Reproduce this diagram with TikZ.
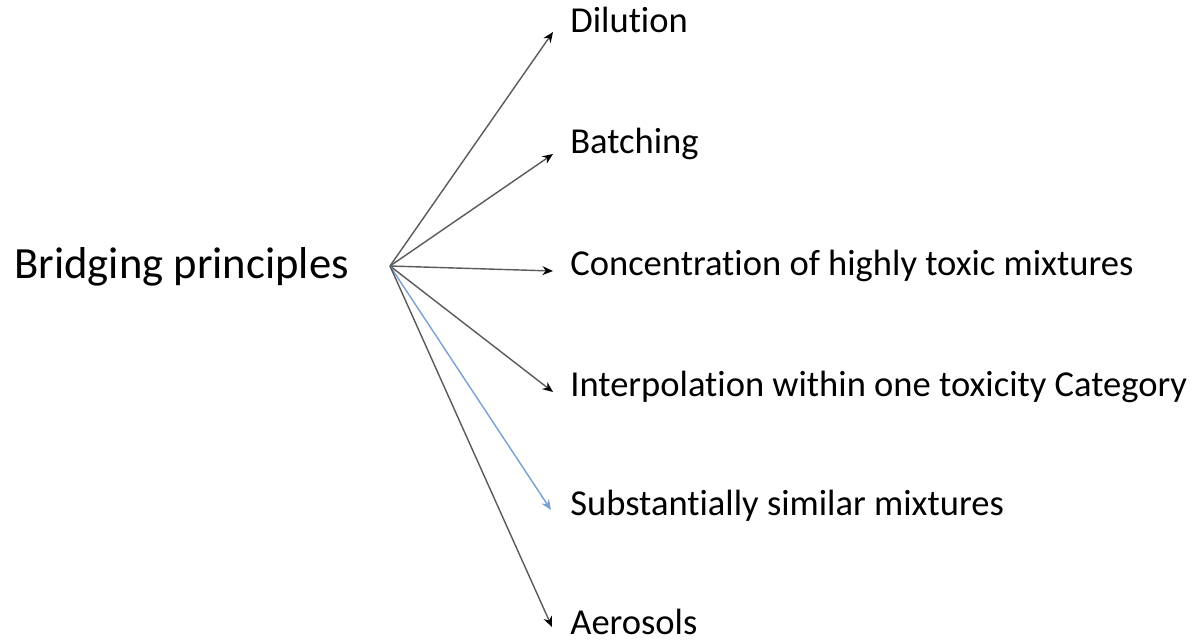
\documentclass[tikz,border=0pt]{standalone}
\usepackage{fontspec}
\setmainfont{Carlito}[Ligatures=NoCommon]
\usetikzlibrary{arrows.meta}
\definecolor{linkgray}{RGB}{90,90,90}
\definecolor{linkblue}{RGB}{120,160,215}
\tikzset{
  branch/.style={text=black, anchor=base west, inner sep=0pt, font=\fontsize{20.8pt}{24pt}\selectfont},
  link/.style={draw=linkgray, line width=0.8pt, -{Stealth[length=6pt,width=5pt,black]}}
}
\begin{document}
\begin{tikzpicture}[x=0.02cm, y=-0.02cm]
  \useasboundingbox (0,0) rectangle (1197,640);
  % Root and its branches
  \node[branch, font=\fontsize{25.4pt}{28pt}\selectfont] (root) at (14,278) {Bridging principles};
  \coordinate (O) at (390,266);

  \node[branch] (dil) at (570,32) {Dilution};
  \node[branch] (bat) at (570,153) {Batching};
  \node[branch] (con) at (570,275) {Concentration of highly toxic mixtures};
  \node[branch] (int) at (570,396) {Interpolation within one toxicity Category};
  \node[branch] (sub) at (570,515) {Substantially similar mixtures};
  \node[branch] (aer) at (570,634) {Aerosols};

  \coordinate (tdil) at (553,32);
  \coordinate (tbat) at (553,154);
  \coordinate (tcon) at (553,271);
  \coordinate (tint) at (553,392);
  \coordinate (tsub) at (551,510);
  \coordinate (taer) at (552,627);

  \draw[link] (O) -- (tdil);
  \draw[link] (O) -- (tbat);
  \draw[link] (O) -- (tcon);
  \draw[link] (O) -- (tint);
  \draw[link, draw=linkblue, -{Stealth[length=6pt,width=5pt,linkblue]}] (O) -- (tsub);
  \draw[link] (O) -- (taer);
\end{tikzpicture}
\end{document}
